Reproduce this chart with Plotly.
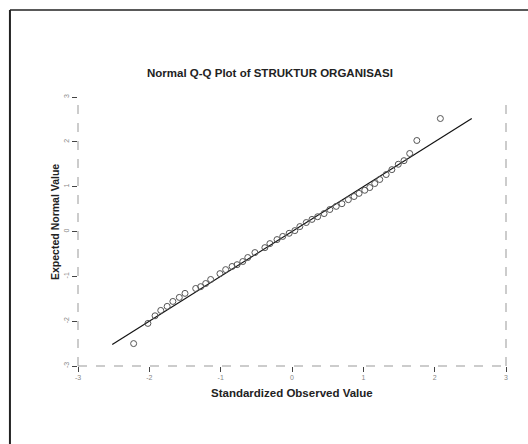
import plotly.graph_objects as go

# Standardized observed values (x) and expected normal values (y)
obs_values = [-2.22, -2.02, -1.92, -1.84, -1.75, -1.67, -1.58, -1.50, -1.35, -1.28,
              -1.21, -1.14, -1.01, -0.93, -0.84, -0.77, -0.69, -0.62, -0.52, -0.38,
              -0.31, -0.21, -0.13, -0.04, 0.04, 0.11, 0.20, 0.28, 0.36, 0.45,
              0.53, 0.62, 0.70, 0.79, 0.87, 0.94, 1.02, 1.09, 1.16, 1.23,
              1.32, 1.40, 1.49, 1.57, 1.65, 1.75, 2.08]
expected_values = [-2.50, -2.05, -1.88, -1.76, -1.67, -1.56, -1.47, -1.38, -1.27, -1.23,
                   -1.16, -1.07, -0.94, -0.85, -0.78, -0.74, -0.67, -0.58, -0.47, -0.36,
                   -0.27, -0.18, -0.11, -0.04, 0.02, 0.11, 0.20, 0.27, 0.33, 0.40,
                   0.49, 0.56, 0.62, 0.71, 0.78, 0.85, 0.92, 0.98, 1.07, 1.16,
                   1.27, 1.38, 1.50, 1.58, 1.74, 2.03, 2.52]
ref_line = [-2.52, 2.52]
tick_vals = [-3, -2, -1, 0, 1, 2, 3]
tick_text = ["-3", "-2", "-1", "0", "1", "2", "3"]

title_text = "Normal Q-Q Plot of STRUKTUR ORGANISASI"
x_title = "Standardized Observed Value"
y_title = "Expected Normal Value"

FONT = "Liberation Sans, Arial, sans-serif"

fig = go.Figure()
fig.add_trace(go.Scatter(x=ref_line, y=ref_line, mode="lines",
                         line=dict(color="#111111", width=1.2), hoverinfo="skip"))
fig.add_trace(go.Scatter(x=obs_values, y=expected_values, mode="markers",
                         marker=dict(symbol="circle-open", size=6,
                                     color="#555555", line=dict(width=1))))

axis_common = dict(range=[-3, 3], tickvals=tick_vals, ticktext=tick_text,
                   showgrid=False, zeroline=False, showline=False,
                   ticks="outside", ticklen=5, tickcolor="#444444", tickwidth=1,
                   tickfont=dict(family=FONT, size=7, color="#888888"))

fig.update_layout(
    width=528, height=444,
    margin=dict(l=78, r=22, t=97, b=78),
    paper_bgcolor="white", plot_bgcolor="white",
    showlegend=False,
    xaxis=dict(**axis_common),
    yaxis=dict(**axis_common, tickangle=-90),
)

# dashed axis frame lines (left, bottom, right)
frame_style = dict(color="#999999", width=1, dash="dash")
fig.add_shape(type="line", xref="paper", yref="paper", x0=0, x1=0, y0=0, y1=1, line=frame_style)
fig.add_shape(type="line", xref="paper", yref="paper", x0=0, x1=1, y0=0, y1=0, line=frame_style)
fig.add_shape(type="line", xref="paper", yref="paper", x0=1, x1=1, y0=0, y1=1, line=frame_style)

# outer page border (top and left, scanned)
fig.add_shape(type="line", xref="paper", yref="paper", x0=-0.159, x1=1.06, y0=1.323, y1=1.323,
              line=dict(color="#222222", width=1.5))
fig.add_shape(type="line", xref="paper", yref="paper", x0=-0.159, x1=-0.159, y0=1.323, y1=-0.3,
              line=dict(color="#222222", width=2))

fig.add_annotation(text="<b>" + title_text + "</b>", xref="paper", yref="paper",
                   x=0.449, y=1.089, showarrow=False, xanchor="center", yanchor="middle",
                   font=dict(family=FONT, size=11.5, color="#222222"))
fig.add_annotation(text="<b>" + x_title + "</b>", xref="paper", yref="paper",
                   x=0.5, y=-0.1, showarrow=False, xanchor="center", yanchor="middle",
                   font=dict(family=FONT, size=11.5, color="#222222"))
fig.add_annotation(text="<b>" + y_title + "</b>", xref="paper", yref="paper",
                   x=-0.054, y=0.535, showarrow=False, textangle=-90,
                   xanchor="center", yanchor="middle",
                   font=dict(family=FONT, size=10.5, color="#222222"))

fig.write_html("out.html")
